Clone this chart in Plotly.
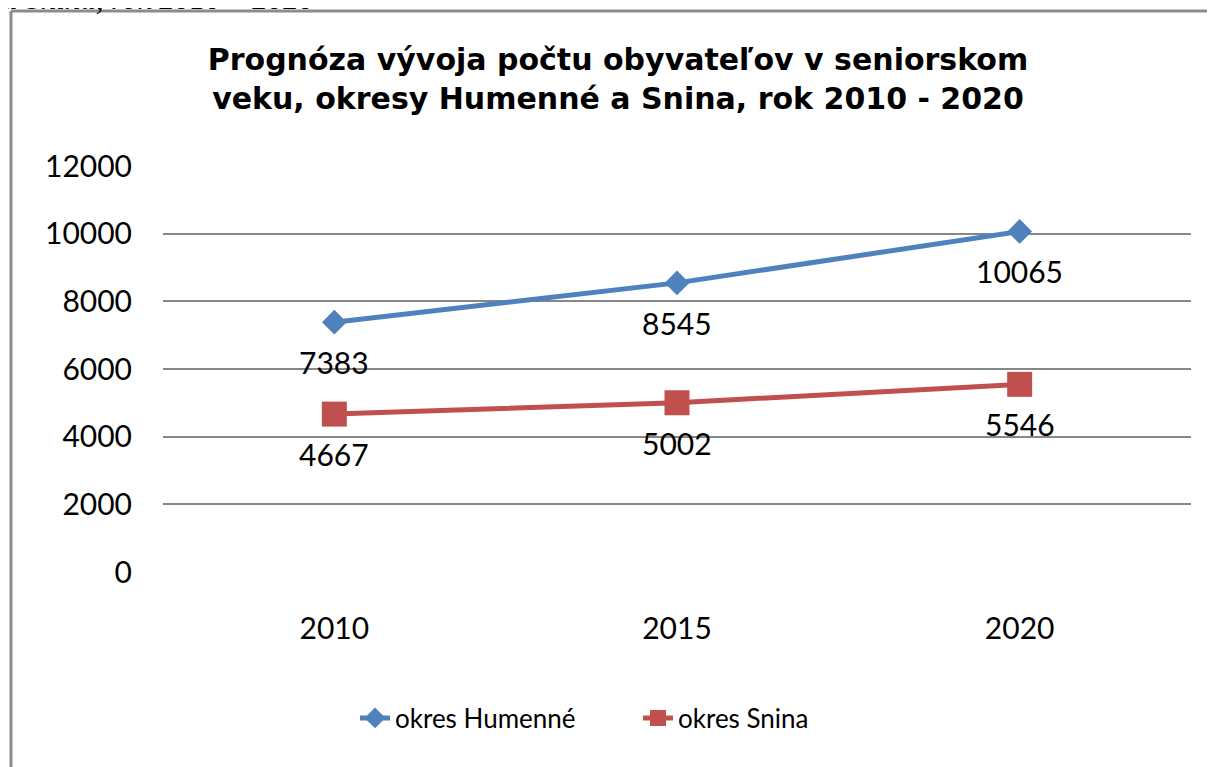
import plotly.graph_objects as go

years = ["2010", "2015", "2020"]
humenne = [7383, 8545, 10065]
snina = [4667, 5002, 5546]
series_names = ["okres Humenné", "okres Snina"]
title_text = "Prognóza vývoja počtu obyvateľov v seniorskom<br>veku, okresy Humenné a Snina, rok 2010 - 2020"
caption_text = "a Snina, rok 2010 – 2020"

BLUE = "#4F81BD"
RED = "#C0504D"
LABEL_FONT = "Lato, Carlito, Calibri, sans-serif"

# page body has an 8px margin -> figure coordinates are window coordinates minus 8
W, H = 1215, 767
ML, MT = 155, 158
PW, PH = 1028, 406
MR = W - ML - PW
MB = H - MT - PH

fig = go.Figure()
fig.add_trace(go.Scatter(
    x=years, y=humenne, name=series_names[0], mode="lines+markers",
    line=dict(color=BLUE, width=5),
    marker=dict(symbol="diamond", size=19, color=BLUE),
))
fig.add_trace(go.Scatter(
    x=years, y=snina, name=series_names[1], mode="lines+markers",
    line=dict(color=RED, width=5),
    marker=dict(symbol="square", size=25, color=RED),
))

annotations = []
for vals in (humenne, snina):
    for i, yv in enumerate(vals):
        annotations.append(dict(
            x=i, y=yv, xref="x", yref="y", text=str(yv), showarrow=False,
            yshift=-40, font=dict(family=LABEL_FONT, size=30, color="#000000"),
        ))

# cropped caption from the surrounding document
annotations.append(dict(
    x=0, y=1, xref="paper", yref="paper", xshift=-ML - 8,
    yshift=148, xanchor="left", yanchor="bottom",
    text="<i>" + caption_text + "</i>", showarrow=False,
    font=dict(family="Liberation Serif, Times New Roman, serif", size=31, color="#000000"),
))

fx = lambda px: (px - ML) / PW
fy = lambda py: 1 - (py - MT) / PH
shapes = [
    dict(type="line", xref="paper", yref="paper",
         x0=fx(3), x1=fx(W + 20), y0=fy(3), y1=fy(3),
         line=dict(color="#8C8C8C", width=3)),
    dict(type="line", xref="paper", yref="paper",
         x0=fx(3), x1=fx(3), y0=fy(3), y1=fy(H + 20),
         line=dict(color="#8C8C8C", width=3)),
]

fig.update_layout(
    width=W, height=H,
    margin=dict(l=ML, r=MR, t=MT, b=MB, autoexpand=False),
    paper_bgcolor="white", plot_bgcolor="white",
    title=dict(
        text="<b>" + title_text + "</b>",
        x=610 / W, xanchor="center",
        y=1 - 62 / H, yanchor="middle",
        font=dict(family="DejaVu Sans, Arial, sans-serif", size=30, color="#000000"),
    ),
    xaxis=dict(
        type="category", range=[-0.5, 2.5], showgrid=False, zeroline=False,
        showline=False, ticks="",
        tickfont=dict(family=LABEL_FONT, size=30, color="#000000"),
        ticklabelstandoff=36,
    ),
    yaxis=dict(
        range=[0, 12000], dtick=2000, tickformat="d", showgrid=True,
        gridcolor="#878787", gridwidth=1.5, zeroline=False, showline=False,
        ticks="", tickfont=dict(family=LABEL_FONT, size=30, color="#000000"),
        ticklabelstandoff=30,
    ),
    legend=dict(
        orientation="h", x=fx(347), xanchor="left",
        y=fy(710), yanchor="middle",
        font=dict(family=LABEL_FONT, size=26, color="#000000"),
        entrywidth=238, entrywidthmode="pixels",
        bgcolor="rgba(0,0,0,0)",
    ),
    annotations=annotations,
    shapes=shapes,
    showlegend=True,
)

fig.write_html("out.html")
